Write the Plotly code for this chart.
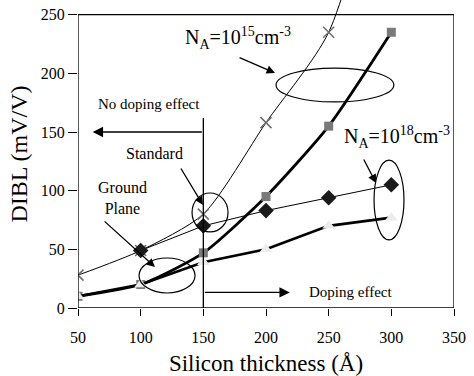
import plotly.graph_objects as go

# Silicon film thickness (Angstrom)
thickness = [50, 100, 150, 200, 250, 300]

# DIBL (mV/V) for each device / doping combination
std_low_dop = [28, 49, 80, 158, 235, 420]     # Standard, NA = 1e15
gp_low_dop = [10, 20, 47, 95, 155, 235]       # Ground plane, NA = 1e15
std_high_x = [100, 150, 200, 250, 300]
std_high_dop = [49, 70, 83, 94, 105]          # Standard, NA = 1e18
gp_high_dop = [10, 20, 39, 50, 70, 77]        # Ground plane, NA = 1e18

x_ticks = [50, 100, 150, 200, 250, 300, 350]
y_ticks = [0, 50, 100, 150, 200, 250]

FONT = "Liberation Serif, Times New Roman, serif"

fig = go.Figure()

fig.add_trace(go.Scatter(
    x=thickness, y=std_low_dop, mode="lines+markers",
    line=dict(color="black", width=1, shape="spline", smoothing=0.7),
    marker=dict(symbol="x-thin-open", size=11, color="#6e6e6e",
                line=dict(color="#6e6e6e", width=1.6)),
))
fig.add_trace(go.Scatter(
    x=thickness, y=gp_low_dop, mode="lines+markers",
    line=dict(color="black", width=2.8, shape="spline", smoothing=0.6),
    marker=dict(symbol="square", size=9, color="#7a7a7a"),
))
fig.add_trace(go.Scatter(
    x=std_high_x, y=std_high_dop, mode="lines+markers",
    line=dict(color="black", width=1),
    marker=dict(symbol="diamond", size=12, color="#1a1a1a"),
))
fig.add_trace(go.Scatter(
    x=thickness, y=gp_high_dop, mode="lines+markers",
    line=dict(color="black", width=2.6),
    marker=dict(symbol="triangle-up", size=11, color="#ececec"),
))

shapes = [
    # plot frame
    dict(type="rect", xref="x", yref="y", x0=50, x1=350, y0=0, y1=250,
         line=dict(color="black", width=1.3), layer="above"),
    # boundary between the two regimes
    dict(type="line", xref="x", yref="y", x0=150, x1=150, y0=0, y1=162,
         line=dict(color="black", width=1.3)),
    # groupings
    dict(type="circle", xref="x", yref="y", x0=208, x1=302, y0=175.6, y1=204.5,
         line=dict(color="black", width=1.2)),
    dict(type="circle", xref="x", yref="y", x0=286.2, x1=310.1, y0=58, y1=126,
         line=dict(color="black", width=1.2)),
    dict(type="circle", xref="x", yref="y", x0=141, x1=169.7, y0=64.8, y1=98,
         line=dict(color="black", width=1.2)),
    dict(type="circle", xref="x", yref="y", x0=98.7, x1=143.4, y0=12.8, y1=42.6,
         line=dict(color="black", width=1.2)),
]


def arrow(x, y, ax, ay, head=1.0):
    return dict(x=x, y=y, ax=ax, ay=ay, xref="x", yref="y", axref="x", ayref="y",
                text="", showarrow=True, arrowhead=2, arrowsize=head,
                arrowwidth=1.3, arrowcolor="black")


def label(x, y, text, size, xanchor="center"):
    return dict(x=x, y=y, xref="x", yref="y", text=text, showarrow=False,
                xanchor=xanchor, yanchor="middle",
                font=dict(family=FONT, size=size, color="black"))


annotations = [
    arrow(61.7, 150, 150, 150, head=1.6),
    arrow(219, 13.3, 150, 13.3, head=1.6),
    arrow(149.7, 87.8, 131.4, 120.2, head=1.3),
    arrow(111.4, 34.9, 70, 75, head=1.3),
    arrow(207.2, 200.3, 177.7, 213.9, head=1.3),
    arrow(287.8, 106.5, 277.4, 127.8, head=1.3),
    label(64.4, 173.9, "No doping effect", 15, "left"),
    label(267.4, 13.3, "Doping effect", 15, "center"),
    label(86.7, 131.3, "Standard", 16, "left"),
    label(64.4, 93.5, "Ground<br>Plane", 16, "left"),
    label(177.7, 230, "N<sub>A</sub>=10<sup>15</sup>cm<sup>-3</sup>", 20, "center"),
    label(304.9, 145.5, "N<sub>A</sub>=10<sup>18</sup>cm<sup>-3</sup>", 20, "center"),
]

fig.update_layout(
    width=474, height=376,
    margin=dict(l=78, r=20, t=0, b=68),
    paper_bgcolor="white", plot_bgcolor="white",
    showlegend=False,
    shapes=shapes, annotations=annotations,
    font=dict(family=FONT, color="black"),
    xaxis=dict(
        range=[50, 350], tickvals=x_ticks, ticks="outside", ticklen=7,
        tickwidth=1.3, tickcolor="black", showgrid=False, zeroline=False,
        showline=False, tickfont=dict(family=FONT, size=16),
        ticklabelstandoff=8, automargin=False,
        title=dict(text="Silicon thickness (Å)", font=dict(family=FONT, size=23),
                   standoff=10),
    ),
    yaxis=dict(
        range=[0, 262.5], tickvals=y_ticks, ticks="outside", ticklen=9,
        tickwidth=1.3, tickcolor="black", showgrid=False, zeroline=False,
        showline=False, tickfont=dict(family=FONT, size=16), automargin=False,
        title=dict(text="DIBL (mV/V)", font=dict(family=FONT, size=24),
                   standoff=6),
    ),
)

fig.write_html("out.html")
